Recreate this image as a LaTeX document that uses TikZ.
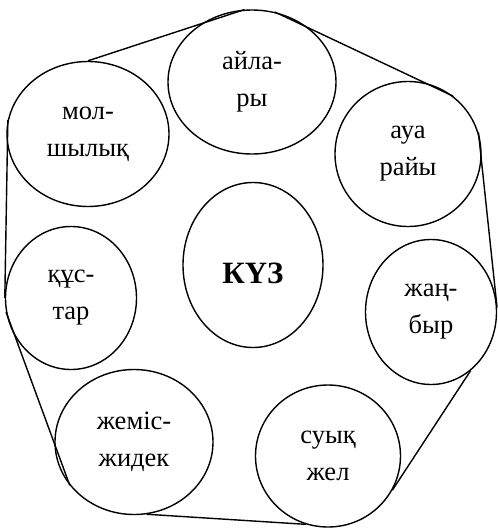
\documentclass[tikz,border=0pt]{standalone}
\usepackage{fontspec}
\setmainfont{Liberation Serif}
\usetikzlibrary{shapes.geometric}

\begin{document}
\begin{tikzpicture}[x=1pt,y=-1pt,-,line width=1.4pt,main node/.style={ellipse,draw,inner sep=0pt,align=center,font=\fontsize{26.5}{37}\selectfont}]

            \useasboundingbox (0,0) rectangle (498,528);

            \node[main node, minimum width=140, minimum height=165, font=\fontsize{31}{37}\bfseries, text height=36pt, text depth=0pt] (1) at (253,265) {КҮЗ};
            \node[main node, minimum width=168, minimum height=144] (2) at (252,82) {айла-\\ры};
            \node[main node, minimum width=146, minimum height=145] (3) at (408,154) {ауа\\райы};
            \node[main node, minimum width=131, minimum height=145] (4) at (431,312) {жаң-\\быр};
            \node[main node, minimum width=145, minimum height=142] (5) at (328,456) {суық\\жел};
            \node[main node, minimum width=158, minimum height=145] (6) at (134,442) {жеміс-\\жидек};
            \node[main node, minimum width=131, minimum height=143] (7) at (71,298) {құс-\\тар};
            \node[main node, minimum width=162, minimum height=145] (8) at (88,134) {мол-\\шылық};

            \draw[-] (8.north) to (2.96);
            \draw[-] (2.72) to (3.52);
            \draw[-] (3.17) to (4.4);
            \draw[-] (4.-56) to (5.-28);
            \draw[-] (5.252) to (6.-80);
            \draw[-] (6.214) to (7.192);
            \draw[-] (7.west) to (8.170);

            ;
        \end{tikzpicture}
\end{document}
